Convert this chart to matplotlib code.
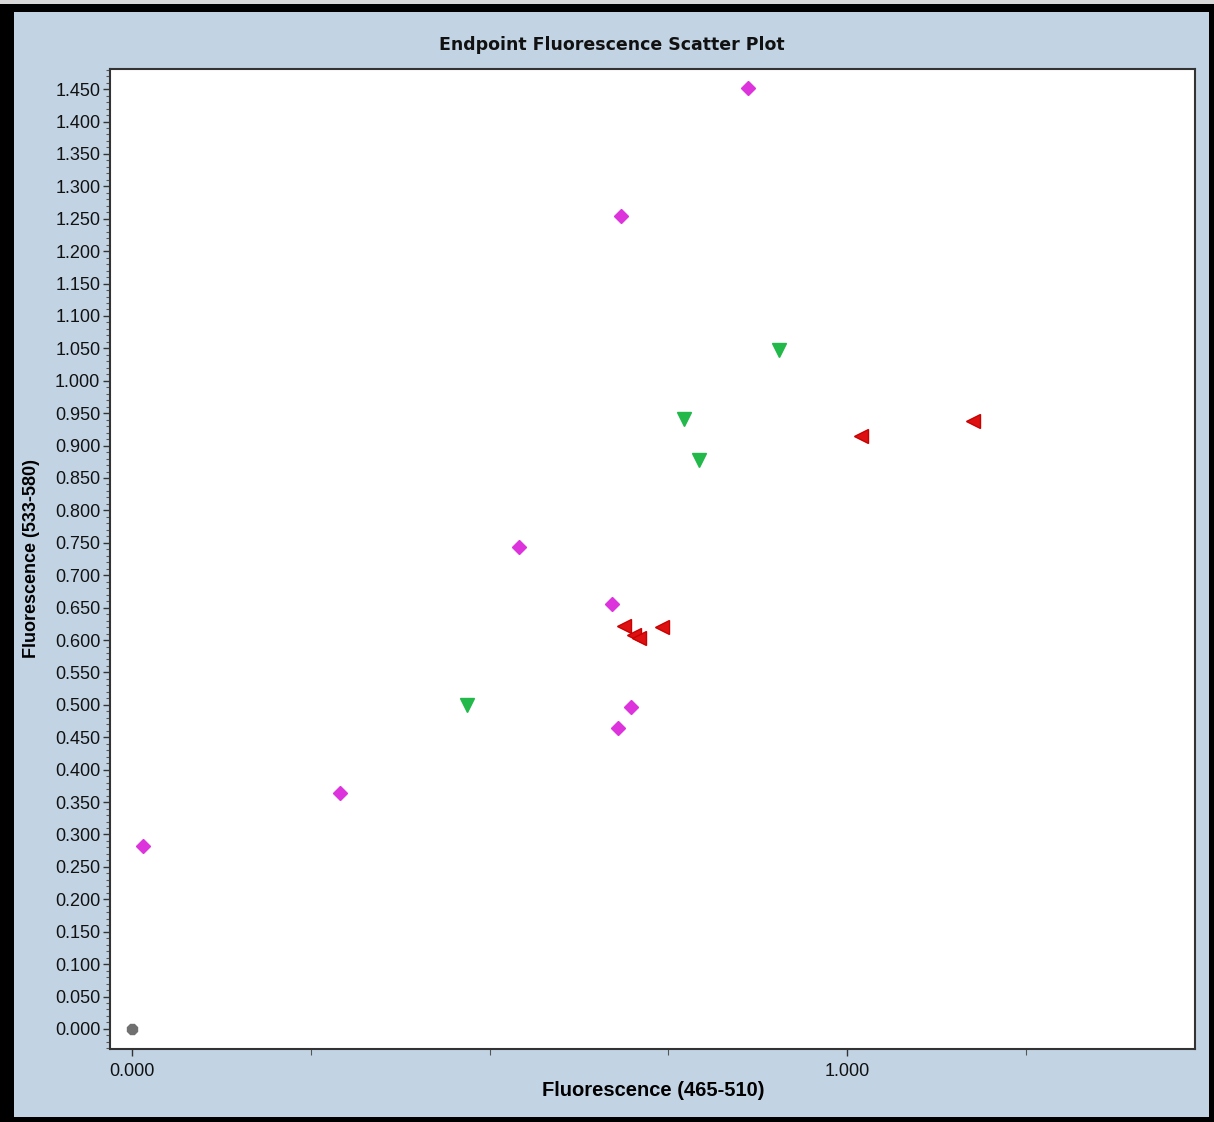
import matplotlib
matplotlib.use("Agg")
import matplotlib.pyplot as plt
from matplotlib.patches import Rectangle
from matplotlib.ticker import FixedLocator, MultipleLocator, FuncFormatter
from matplotlib import font_manager

# ---- data ----
magenta_x = [0.862, 0.684, 0.541, 0.671, 0.698, 0.680, 0.291, 0.015]
magenta_y = [1.452, 1.254, 0.743, 0.656, 0.497, 0.464, 0.364, 0.282]

green_x = [0.905, 0.772, 0.793, 0.469]
green_y = [1.047, 0.941, 0.878, 0.500]

red_x = [1.176, 1.020, 0.741, 0.688, 0.702, 0.709]
red_y = [0.938, 0.915, 0.620, 0.622, 0.607, 0.603]

gray_x = [0.0]
gray_y = [0.0]

title_text = "Endpoint Fluorescence Scatter Plot"
xlabel_text = "Fluorescence (465-510)"
ylabel_text = "Fluorescence (533-580)"

x_major = [0.0, 1.0]
x_minor = [0.25, 0.5, 0.75, 1.25]
y_step = 0.05
y_max_tick = 1.45

# ---- fonts ----
avail = {f.name for f in font_manager.fontManager.ttflist}
narrow = "Liberation Sans Narrow" if "Liberation Sans Narrow" in avail else "Liberation Sans"

W, H = 1214, 1122
fig = plt.figure(figsize=(W / 100, H / 100), dpi=100)
fig.patch.set_facecolor("black")

bg = "#C2D4E4"
fig.add_artist(Rectangle((0, 1 - 4 / H), 1, 4 / H, transform=fig.transFigure,
                         facecolor="#D8D8D8", edgecolor="none", zorder=0))
fig.add_artist(Rectangle((14 / W, 1 - 1117 / H), (1209 - 14) / W, (1117 - 12) / H,
                         transform=fig.transFigure, facecolor=bg, edgecolor="none", zorder=0))

ax = fig.add_axes([110 / W, 1 - 1049 / H, 1085 / W, 980 / H])
ax.set_facecolor("white")
ax.set_zorder(2)

ax.plot(magenta_x, magenta_y, linestyle="none", marker="D", markersize=7.5,
        color="#DD33DD", markeredgecolor="#DD33DD")
ax.plot(green_x, green_y, linestyle="none", marker="v", markersize=10,
        color="#22B84A", markeredgecolor="#22B84A")
ax.plot(red_x, red_y, linestyle="none", marker="<", markersize=9.5,
        color="#DD1111", markeredgecolor="#C80000")
ax.plot(gray_x, gray_y, linestyle="none", marker="8", markersize=7.5,
        color="#707070", markeredgecolor="#707070")

ax.set_xlim(-0.031, 1.487)
ax.set_ylim(-0.031, 1.481)

ax.xaxis.set_major_locator(FixedLocator(x_major))
ax.xaxis.set_minor_locator(FixedLocator(x_minor))
ax.xaxis.set_major_formatter(FuncFormatter(lambda v, p: f"{v:.3f}"))

yt = [round(i * y_step, 3) for i in range(int(round(y_max_tick / y_step)) + 1)]
ax.yaxis.set_major_locator(FixedLocator(yt))
ax.yaxis.set_minor_locator(MultipleLocator(0.01))
ax.yaxis.set_major_formatter(FuncFormatter(lambda v, p: f"{v:.3f}"))

for s in ax.spines.values():
    s.set_color("#333333")
    s.set_linewidth(1.5)

ax.tick_params(axis="both", which="major", direction="out", length=5, width=1,
               color="#333333", labelsize=13, labelcolor="#111111", pad=2)
ax.tick_params(axis="x", which="major", pad=5)
ax.tick_params(axis="both", which="minor", direction="out", length=3, width=0.8,
               color="#555555")
ax.tick_params(axis="x", which="minor", length=4)
for lbl in ax.get_xticklabels() + ax.get_yticklabels():
    lbl.set_fontfamily(narrow)

ax.set_xlabel(xlabel_text, fontsize=14.5, fontweight="bold", family=narrow)
ax.set_ylabel(ylabel_text, fontsize=13, fontweight="bold", family=narrow)
ax.xaxis.set_label_coords((653 - 110) / 1085, (1049 - 1081) / 980)
ax.yaxis.set_label_coords((40 - 110) / 1085, 0.5)

fig.text(612 / W, 1 - 45 / H, title_text, ha="center", va="center",
         fontsize=12.5, fontweight="bold", family="DejaVu Sans", color="#111111")

fig.savefig("out.png", dpi=100, facecolor=fig.get_facecolor())
